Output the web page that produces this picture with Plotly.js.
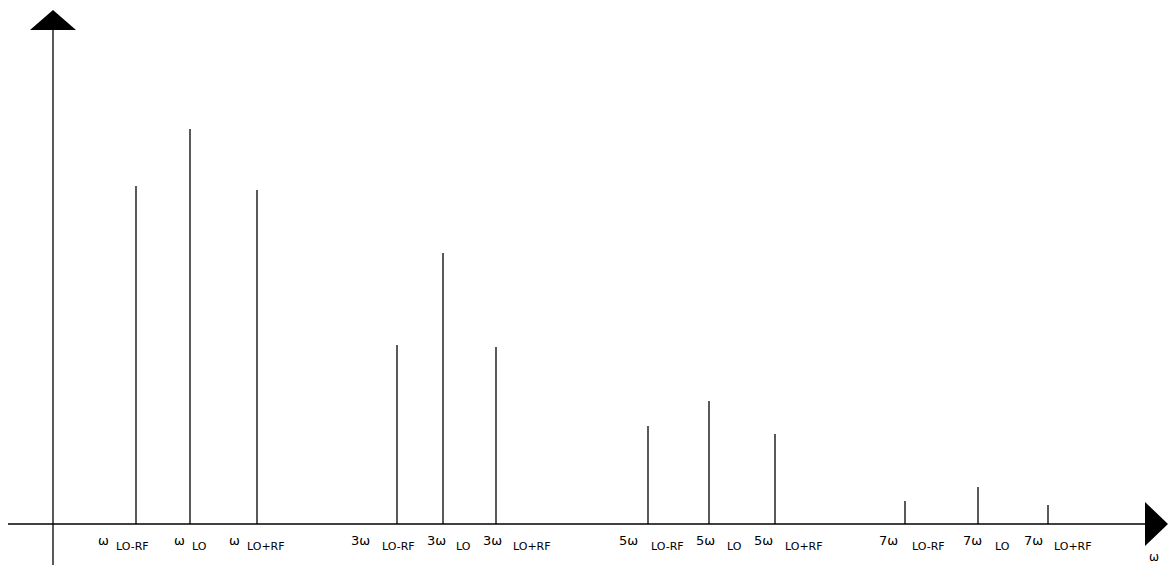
<!DOCTYPE html>
<html><head><meta charset="utf-8">
<script src="https://cdn.plot.ly/plotly-3.0.1.min.js"></script>
<style>html,body{margin:0;padding:0;background:#fff}#c{width:1168px;height:567px}</style>
</head><body><div id="c"></div>
<script>
// Spectral line positions (horizontal, same scale as the axis) and amplitudes
const positions = [83, 137, 204, 344, 390, 443, 595, 656, 722, 852, 925, 995];
const amplitudes = [338, 395, 334, 179, 271, 177, 98, 123, 90, 23, 37, 19];
const harmonics = ["ω", "ω", "ω", "3ω", "3ω", "3ω", "5ω", "5ω", "5ω", "7ω", "7ω", "7ω"];
const products = ["LO-RF", "LO", "LO+RF", "LO-RF", "LO", "LO+RF", "LO-RF", "LO", "LO+RF", "LO-RF", "LO", "LO+RF"];
const axisLabel = "ω";

// label horizontal nudges in pixels (styling only)
const mainShift = [-39, -17, -29, -47, -17, -14, -30, -14, -22, -27, -16, -25];
const subShift = [-21, 1, -11, -16, 12, 16, 2, 17, 9, 6, 16, 5];

const xs = [], ys = [];
positions.forEach((p, i) => { xs.push(p, p, null); ys.push(0, amplitudes[i], null); });

const annotations = [];
positions.forEach((p, i) => {
  annotations.push({
    x: p, y: 0, xref: 'x', yref: 'y', text: harmonics[i],
    showarrow: false, xanchor: 'left', yanchor: 'middle',
    xshift: mainShift[i] - 1, yshift: -16,
    font: {family: 'DejaVu Sans', size: 13, color: '#000'}
  });
  annotations.push({
    x: p, y: 0, xref: 'x', yref: 'y', text: products[i],
    showarrow: false, xanchor: 'left', yanchor: 'middle',
    xshift: subShift[i] - 1, yshift: -22,
    font: {family: 'DejaVu Sans', size: 11, color: '#000'}
  });
});
annotations.push({x: 1101, y: 0, xref: 'x', yref: 'y', text: axisLabel, showarrow: false,
  xanchor: 'center', yanchor: 'middle', yshift: -33,
  font: {family: 'DejaVu Sans', size: 12, color: '#000'}});

const shapes = [
  {type: 'line', x0: -45, x1: 1095, y0: 0, y1: 0, line: {color: '#000', width: 1.3}},
  {type: 'line', x0: 0, x1: 0, y0: -41, y1: 495, line: {color: '#000', width: 1.3}},
  {type: 'path', path: 'M 1092 22 L 1115 0 L 1092 -22 Z', fillcolor: '#000', line: {color: '#000', width: 0}},
  {type: 'path', path: 'M -23 494 L 0 514 L 23 494 Z', fillcolor: '#000', line: {color: '#000', width: 0}}
];

Plotly.newPlot('c', [{
  type: 'scatter', mode: 'lines', x: xs, y: ys,
  line: {color: '#000', width: 1.3}, hoverinfo: 'skip', showlegend: false
}], {
  width: 1168, height: 567,
  margin: {l: 0, r: 0, t: 0, b: 0},
  paper_bgcolor: '#fff', plot_bgcolor: '#fff',
  xaxis: {range: [-53, 1115], visible: false, fixedrange: true},
  yaxis: {range: [-43, 524], visible: false, fixedrange: true},
  shapes: shapes, annotations: annotations, showlegend: false
}, {displayModeBar: false, staticPlot: true});
</script></body></html>
